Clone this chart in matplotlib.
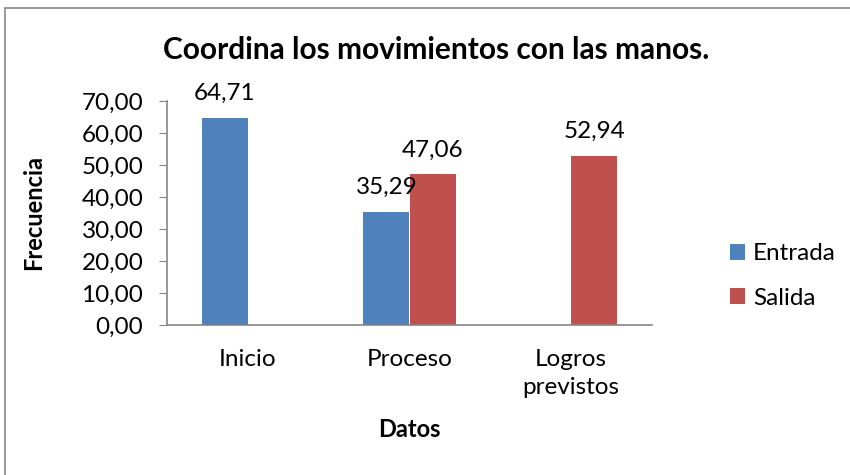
import matplotlib
matplotlib.use("Agg")
import matplotlib.pyplot as plt
import numpy as np
from matplotlib.patches import Rectangle

categories = ["Inicio", "Proceso", "Logros\nprevistos"]
entrada = [64.71, 35.29, None]
salida = [None, 47.06, 52.94]
series_names = ["Entrada", "Salida"]
yticks = [0, 10, 20, 30, 40, 50, 60, 70]

plt.rcParams['font.family'] = ['Lato', 'DejaVu Sans']

fig = plt.figure(figsize=(8.5, 4.75), dpi=100)
ax = fig.add_axes([167/850, 1-325/475, (652-167)/850, 224/475])

x = np.arange(len(categories))
w = 0.285
blue = "#4F81BD"
red = "#C0504D"
FS = 17.5

def fmt(v):
    return f"{v:.2f}".replace(".", ",")

for i, v in enumerate(entrada):
    if v is not None:
        ax.bar(x[i] - w/2, v, w, color=blue, label=series_names[0] if i == 0 else None)
        ax.annotate(fmt(v), (x[i] - w/2, v), xytext=(0, 10), textcoords="offset points",
                    ha="center", va="bottom", fontsize=FS)
for i, v in enumerate(salida):
    if v is not None:
        ax.bar(x[i] + w/2, v, w, color=red, label=series_names[1] if i == 1 else None)
        ax.annotate(fmt(v), (x[i] + w/2, v), xytext=(0, 10), textcoords="offset points",
                    ha="center", va="bottom", fontsize=FS)

ax.set_xlim(-0.5, 2.5)
ax.set_ylim(0, 70)
ax.set_yticks(yticks)
ax.set_yticklabels([fmt(t) for t in yticks], fontsize=FS)
ax.set_xticks(x)
ax.set_xticklabels(categories, fontsize=FS, linespacing=1.45)
ax.tick_params(axis="x", length=0, pad=17)
ax.tick_params(axis="y", length=6, color="#868686", pad=11)
for s in ["top", "right"]:
    ax.spines[s].set_visible(False)
for s in ["left", "bottom"]:
    ax.spines[s].set_color("#868686")
    ax.spines[s].set_linewidth(1.2)

ax.set_ylabel("Frecuencia", fontsize=17, fontweight="bold")
ax.yaxis.set_label_coords((45-167)/485, (325-213)/224)
ax.set_xlabel("Datos", fontsize=17, fontweight="bold")
ax.xaxis.set_label_coords((409-167)/485, (325-418)/224)
fig.text(436/850, 1-50/475, "Coordina los movimientos con las manos.", fontsize=21.5,
         fontweight="bold", ha="center", va="center")

h, l = ax.get_legend_handles_labels()
fig.legend(h, l, loc="center left", bbox_to_anchor=(730/850, 1-276/475), frameon=False,
           fontsize=FS, handlelength=0.6, handleheight=0.6, handletextpad=0.35,
           labelspacing=0.95, borderpad=0, borderaxespad=0)

fig.patches.append(Rectangle((5/850, -0.1), 2, 1-8/475+0.1, transform=fig.transFigure,
                             fill=False, edgecolor="#868686", linewidth=1.2))

fig.savefig("out.png", dpi=100)
